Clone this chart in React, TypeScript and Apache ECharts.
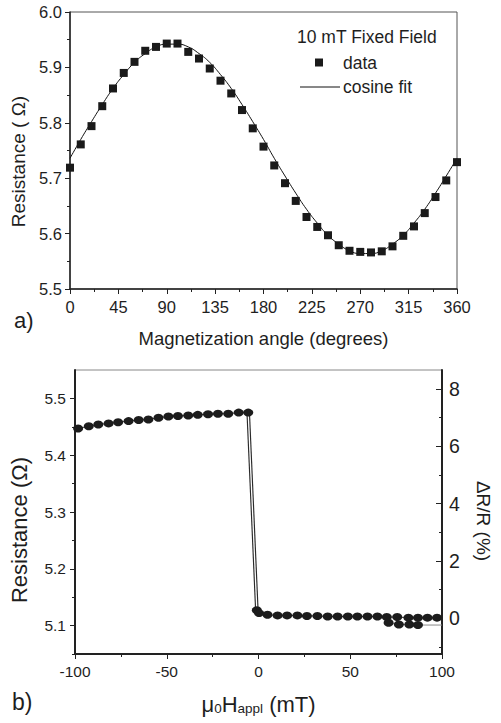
import React, { useEffect, useRef } from "react";
import * as echarts from "echarts";

// (a) angular dependence at a fixed field of 10 mT
const angleDeg = [0, 10, 20, 30, 40, 50, 60, 70, 80, 90, 100, 110, 120, 130, 140, 150, 160, 170, 180, 190, 200, 210, 220, 230, 240, 250, 260, 270, 280, 290, 300, 310, 320, 330, 340, 350, 360];
const angleResistance = [5.719, 5.761, 5.794, 5.830, 5.862, 5.890, 5.910, 5.930, 5.937, 5.943, 5.943, 5.928, 5.916, 5.898, 5.876, 5.853, 5.823, 5.790, 5.757, 5.723, 5.691, 5.659, 5.630, 5.612, 5.597, 5.579, 5.569, 5.567, 5.566, 5.568, 5.577, 5.596, 5.613, 5.637, 5.666, 5.696, 5.729];
const fitResistance = [5.736, 5.770, 5.802, 5.833, 5.862, 5.887, 5.909, 5.925, 5.937, 5.942, 5.942, 5.937, 5.925, 5.909, 5.887, 5.862, 5.833, 5.802, 5.770, 5.736, 5.704, 5.673, 5.644, 5.619, 5.597, 5.581, 5.569, 5.564, 5.564, 5.569, 5.581, 5.597, 5.619, 5.644, 5.673, 5.704, 5.736];

// (b) field sweep: high-resistance branch, switching, low-resistance branch
const upField = [-98.3, -92.5, -87.3, -81.7, -76.5, -70.8, -65.3, -60.0, -54.5, -49.1, -43.9, -38.3, -33.1, -27.5, -22.1, -16.5, -10.8, -5.6];
const upResistance = [5.447, 5.451, 5.454, 5.456, 5.458, 5.460, 5.462, 5.463, 5.466, 5.468, 5.469, 5.470, 5.471, 5.472, 5.473, 5.473, 5.475, 5.475];
const switchField = [-5.6, -0.9];
const switchResistance = [5.475, 5.127];
const lowField = [-0.9, 0.3, 4.9, 10.4, 15.6, 21.2, 26.4, 32.1, 37.7, 43.1, 48.7, 53.9, 59.4, 64.8, 69.9, 75.6, 81.7, 86.9, 92.1, 97.3];
const lowResistance = [5.127, 5.122, 5.119, 5.118, 5.118, 5.118, 5.117, 5.117, 5.116, 5.116, 5.116, 5.116, 5.116, 5.116, 5.115, 5.115, 5.114, 5.114, 5.114, 5.114];
const returnField = [100, 86.9, 82.2, 76.5, 70.9];
const returnResistance = [5.101, 5.101, 5.102, 5.102, 5.105];

const resMajor = [5.1, 5.2, 5.3, 5.4, 5.5];
const resMinor = [5.05, 5.15, 5.25, 5.35, 5.45];
const pctMajor = [0, 2, 4, 6, 8];
const pctMinor = [-1, 1, 3, 5, 7];

const FONT = "'Liberation Sans', Arial, Helvetica, sans-serif";
const INK = "#1e1e1e";

const zip = (xs: number[], ys: number[]) => xs.map((x, i) => [x, ys[i]]);

export default function App() {
  const ref = useRef<HTMLDivElement>(null);

  useEffect(() => {
    if (!ref.current) return;
    const chart = echarts.init(ref.current, null, { renderer: "svg" });

    const labelStyle = { color: INK, fontFamily: FONT };
    const axisLine = (width: number) => ({ onZero: false, lineStyle: { color: "#222", width } });

    chart.setOption({
      animation: false,
      backgroundColor: "#ffffff",
      textStyle: { fontFamily: FONT },
      grid: [
        { left: 70, right: 44, top: 12, height: 277, show: true, borderColor: "#555", borderWidth: 1 },
        { left: 72, right: 46, top: 370, height: 284, show: true, borderColor: "#888", borderWidth: 1 },
      ],
      xAxis: [
        {
          gridIndex: 0,
          type: "value",
          min: 0,
          max: 360,
          interval: 45,
          name: "Magnetization angle (degrees)",
          nameLocation: "middle",
          nameGap: 40,
          nameTextStyle: { ...labelStyle, fontSize: 18.5 },
          axisLine: axisLine(1.5),
          axisTick: { inside: false, length: 5, lineStyle: { color: "#222" } },
          minorTick: { show: true, splitNumber: 2, length: 3, lineStyle: { color: "#222" } },
          axisLabel: { ...labelStyle, fontSize: 16.5, margin: 9 },
          splitLine: { show: false },
        },
        {
          gridIndex: 1,
          type: "value",
          min: -100,
          max: 100,
          interval: 50,
          name: "{m|μ}{s|0}{m|H}{s|appl}{m| (mT)}",
          nameLocation: "middle",
          nameGap: 34,
          nameTextStyle: {
            ...labelStyle,
            rich: {
              m: { fontSize: 22, color: INK, fontFamily: FONT, lineHeight: 27, verticalAlign: "bottom" },
              s: { fontSize: 13.5, color: INK, fontFamily: FONT, lineHeight: 20, verticalAlign: "bottom" },
            },
          },
          axisLine: axisLine(2),
          axisTick: { inside: false, length: 5, lineStyle: { color: "#222" } },
          minorTick: { show: true, splitNumber: 2, length: 3, lineStyle: { color: "#222" } },
          axisLabel: { ...labelStyle, fontSize: 15.5, margin: 9 },
          splitLine: { show: false },
        },
      ],
      yAxis: [
        {
          gridIndex: 0,
          type: "value",
          min: 5.5,
          max: 6.0,
          interval: 0.1,
          name: "Resistance ( Ω)",
          nameLocation: "middle",
          nameGap: 30,
          nameTextStyle: { ...labelStyle, fontSize: 19, padding: [0, 22, 0, 0] },
          axisLine: axisLine(1.5),
          axisTick: { inside: false, length: 5, lineStyle: { color: "#222" } },
          minorTick: { show: true, splitNumber: 2, length: 3, lineStyle: { color: "#222" } },
          axisLabel: { ...labelStyle, fontSize: 16.5, margin: 8, formatter: (v: number) => v.toFixed(1) },
          splitLine: { show: false },
        },
        {
          gridIndex: 1,
          type: "value",
          position: "left",
          min: 5.05,
          max: 5.55,
          name: "Resistance (Ω)",
          nameLocation: "middle",
          nameGap: 45,
          nameTextStyle: { ...labelStyle, fontSize: 22, padding: [0, 36, 0, 0] },
          axisLine: axisLine(2),
          axisTick: { inside: false, length: 5, customValues: resMajor, lineStyle: { color: "#222" } },
          axisLabel: { ...labelStyle, fontSize: 15.5, margin: 9, customValues: resMajor, formatter: (v: number) => v.toFixed(1) },
          splitLine: { show: false },
        },
        {
          gridIndex: 1,
          type: "value",
          position: "left",
          offset: 0,
          min: 5.05,
          max: 5.55,
          axisLine: { show: false, onZero: false },
          axisTick: { inside: false, length: 3, customValues: resMinor, lineStyle: { color: "#222" } },
          axisLabel: { show: false },
          splitLine: { show: false },
        },
        {
          gridIndex: 1,
          type: "value",
          position: "right",
          min: -1.25,
          max: 8.66,
          name: "ΔR/R (%)",
          nameLocation: "middle",
          nameGap: 32,
          nameRotate: -90,
          nameTextStyle: { ...labelStyle, fontSize: 19, padding: [0, 0, 0, 18] },
          axisLine: axisLine(2),
          axisTick: { inside: true, length: 6, customValues: pctMajor, lineStyle: { color: "#222" } },
          axisLabel: { ...labelStyle, fontSize: 19.5, margin: 7, customValues: pctMajor },
          splitLine: { show: false },
        },
        {
          gridIndex: 1,
          type: "value",
          position: "right",
          offset: 0,
          min: -1.25,
          max: 8.66,
          axisLine: { show: false, onZero: false },
          axisTick: { inside: true, length: 3, customValues: pctMinor, lineStyle: { color: "#222" } },
          axisLabel: { show: false },
          splitLine: { show: false },
        },
      ],
      series: [
        {
          name: "cosine fit",
          type: "line",
          xAxisIndex: 0,
          yAxisIndex: 0,
          data: zip(angleDeg, fitResistance),
          smooth: true,
          symbol: "none",
          lineStyle: { color: "#111", width: 1 },
          z: 2,
        },
        {
          name: "data",
          type: "scatter",
          xAxisIndex: 0,
          yAxisIndex: 0,
          data: zip(angleDeg, angleResistance),
          symbol: "rect",
          symbolSize: 8,
          itemStyle: { color: "#1a1a1a", opacity: 1 },
          z: 3,
        },
        {
          name: "switch outer",
          type: "line",
          xAxisIndex: 1,
          yAxisIndex: 1,
          data: zip(switchField, switchResistance),
          symbol: "none",
          lineStyle: { color: "#2a2a2a", width: 3.6 },
          z: 2,
        },
        {
          name: "switch inner",
          type: "line",
          xAxisIndex: 1,
          yAxisIndex: 1,
          data: zip(switchField, switchResistance),
          symbol: "none",
          lineStyle: { color: "#ffffff", width: 1.3 },
          z: 2,
        },
        {
          name: "return sweep",
          type: "line",
          xAxisIndex: 1,
          yAxisIndex: 1,
          data: zip(returnField, returnResistance).map((p, i) =>
            i === 0 ? { value: p, symbol: "none" } : { value: p }
          ),
          symbol: "circle",
          symbolSize: [10, 8],
          itemStyle: { color: "#1c1c1c", opacity: 1 },
          lineStyle: { color: "#8a8a8a", width: 1 },
          z: 3,
        },
        {
          name: "low branch",
          type: "line",
          xAxisIndex: 1,
          yAxisIndex: 1,
          data: zip(lowField, lowResistance),
          symbol: "circle",
          symbolSize: [10, 8],
          itemStyle: { color: "#1c1c1c", opacity: 1 },
          lineStyle: { color: "#333", width: 1 },
          z: 4,
        },
        {
          name: "high branch",
          type: "line",
          xAxisIndex: 1,
          yAxisIndex: 1,
          data: zip(upField, upResistance),
          symbol: "circle",
          symbolSize: [10, 8],
          itemStyle: { color: "#1c1c1c", opacity: 1 },
          lineStyle: { color: "#333", width: 1 },
          z: 4,
        },
      ],
      graphic: [
        { type: "text", x: 297, y: 37, style: { text: "10 mT Fixed Field", fontSize: 17.5, fontFamily: FONT, fill: INK, verticalAlign: "middle" } },
        { type: "rect", shape: { x: 315, y: 58.5, width: 8, height: 8 }, style: { fill: "#1a1a1a" } },
        { type: "text", x: 343, y: 63, style: { text: "data", fontSize: 17.5, fontFamily: FONT, fill: INK, verticalAlign: "middle" } },
        { type: "line", shape: { x1: 300, y1: 87, x2: 340, y2: 87 }, style: { stroke: "#111", lineWidth: 1 } },
        { type: "text", x: 343, y: 87, style: { text: "cosine fit", fontSize: 17.5, fontFamily: FONT, fill: INK, verticalAlign: "middle" } },
        { type: "text", x: 14, y: 320, style: { text: "a)", fontSize: 22, fontFamily: FONT, fill: INK, verticalAlign: "middle" } },
        { type: "text", x: 12, y: 702, style: { text: "b)", fontSize: 23, fontFamily: FONT, fill: INK, verticalAlign: "middle" } },
      ],
    });

    return () => chart.dispose();
  }, []);

  return (
    <div
      ref={ref}
      style={{ position: "absolute", left: 0, top: 0, width: 501, height: 723, background: "#fff" }}
    />
  );
}
